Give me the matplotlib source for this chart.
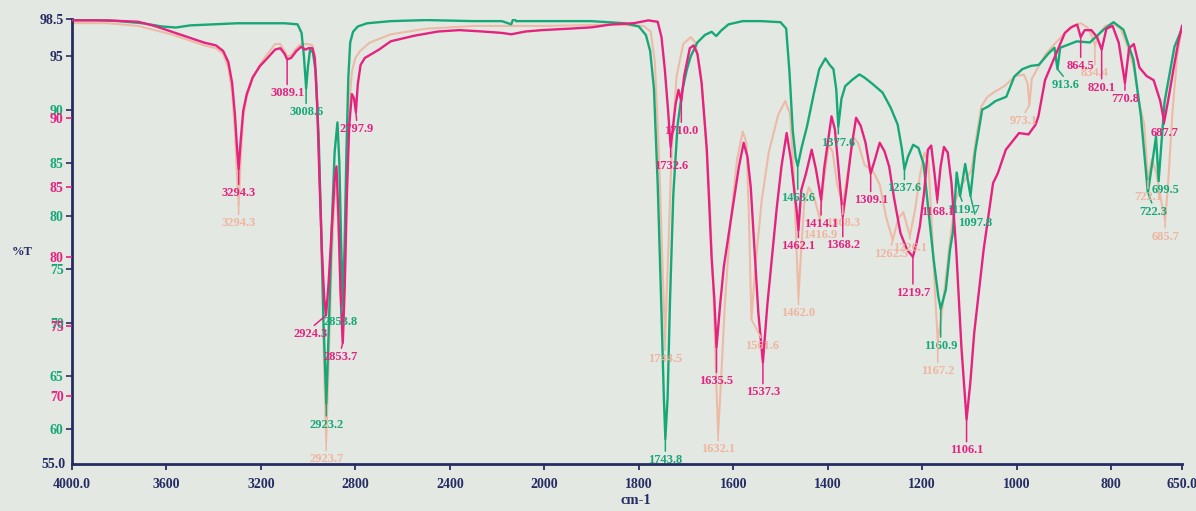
import numpy as np
import matplotlib
matplotlib.use("Agg")
import matplotlib.pyplot as plt

# ---------------------------------------------------------------------------
# FTIR spectra (%T vs wavenumber, cm-1)
# ---------------------------------------------------------------------------
green_wn = [4000, 3900, 3800, 3700, 3620, 3560, 3500, 3400, 3300, 3200, 3100, 3045,
            3028, 3018, 3008.6, 3001, 2992, 2980, 2968, 2955, 2945, 2935, 2923.2, 2912,
            2900, 2888, 2876, 2868, 2861, 2853.8, 2846, 2838, 2830, 2822, 2810, 2790,
            2750, 2650, 2500, 2300, 2180, 2140, 2130, 2120, 2000, 1900, 1830, 1800,
            1785, 1776, 1768, 1760, 1752, 1747, 1743.8, 1739, 1734, 1727, 1718, 1708,
            1698, 1690, 1676, 1660, 1646, 1636, 1626, 1610, 1580, 1540, 1500, 1488,
            1481, 1474, 1468, 1463.6, 1455, 1444, 1429, 1418, 1405, 1396, 1388, 1382,
            1377.6, 1371, 1363, 1348, 1333, 1322, 1305, 1284, 1267, 1252, 1243, 1237.6,
            1230, 1219, 1208, 1197, 1187, 1176, 1166, 1160.9, 1150, 1141, 1135, 1127,
            1119.7, 1109, 1097.8, 1088, 1073, 1060, 1045, 1022, 1005, 988, 970, 953,
            932, 920, 913.6, 908, 902, 873, 845, 816, 795, 774, 753, 737,
            722.3, 711, 705, 699.5, 687, 666, 650]
green_t = [98.4, 98.4, 98.3, 98.1, 97.8, 97.7, 97.9, 98.0, 98.1, 98.1, 98.1, 98.0,
           97.2, 95.0, 92.0, 94.0, 95.6, 95.4, 93.5, 87.0, 79.0, 70.0, 62.4, 70.0,
           79.0, 86.0, 88.8, 85.0, 78.0, 72.0, 77.0, 86.0, 93.0, 96.3, 97.3, 97.8,
           98.1, 98.3, 98.4, 98.3, 98.3, 98.0, 98.6, 98.3, 98.3, 98.3, 98.1, 97.8,
           97.0, 95.5, 92.0, 83.0, 71.0, 63.0, 59.1, 63.0, 72.0, 82.0, 88.5, 91.8,
           93.8, 95.0, 96.3, 97.0, 97.3, 96.9, 97.4, 98.0, 98.3, 98.3, 98.2, 97.6,
           93.5, 88.0, 85.5, 84.7, 86.5, 88.4, 91.6, 93.8, 94.8, 94.2, 93.8, 91.9,
           88.4, 91.0, 92.2, 92.8, 93.3, 93.0, 92.4, 91.6, 90.2, 88.6, 86.3, 84.4,
           85.6, 86.7, 86.4, 84.9, 80.6, 76.0, 72.5, 71.3, 73.1, 76.9, 78.5, 84.1,
           81.9, 84.9, 81.9, 86.0, 90.0, 90.3, 90.8, 91.2, 93.1, 93.8, 94.1, 94.2,
           95.3, 95.8, 93.8, 95.8, 95.9, 96.4, 96.3, 97.5, 98.2, 97.5, 94.7, 89.4,
           82.2, 85.6, 87.5, 83.3, 90.7, 95.9, 97.6]

magenta_wn = [4000, 3850, 3720, 3650, 3580, 3510, 3440, 3390, 3360, 3338, 3322, 3310,
              3302, 3294.3, 3286, 3275, 3260, 3235, 3205, 3172, 3140, 3118, 3100, 3089.1,
              3072, 3050, 3030, 3012, 2998, 2982, 2972, 2962, 2952, 2942, 2932, 2924.3,
              2914, 2900, 2888, 2880, 2872, 2863, 2853.7, 2845, 2836, 2826, 2815, 2806,
              2797.9, 2790, 2778, 2760, 2740, 2700, 2650, 2550, 2450, 2360, 2260, 2180,
              2140, 2080, 2010, 1950, 1900, 1860, 1810, 1780, 1760, 1752, 1745, 1738,
              1732.6, 1722, 1716, 1710.0, 1704, 1692, 1684, 1676, 1667, 1656, 1646, 1640,
              1635.5, 1628, 1620, 1608, 1598, 1588, 1578, 1570, 1563, 1555, 1547, 1537.3,
              1528, 1520, 1508, 1498, 1487, 1478, 1470, 1466, 1462.1, 1456, 1446, 1434,
              1425, 1414.1, 1407, 1399, 1392, 1385, 1377, 1368.2, 1360, 1350, 1340, 1330,
              1320, 1309.1, 1300, 1290, 1280, 1270, 1260, 1246, 1232, 1219.7, 1212, 1205,
              1196, 1188, 1181, 1174, 1168.1, 1161, 1154, 1146, 1138, 1128, 1117, 1106.1,
              1098, 1090, 1070, 1050, 1040, 1023, 995, 975, 960, 954, 940, 919,
              898, 885, 872, 864.5, 856, 842, 830, 820.1, 810, 797, 784, 770.8,
              762, 752, 740, 725, 710, 696, 687.7, 678, 668, 658, 650]
magenta_t = [97.0, 97.0, 96.9, 96.6, 96.2, 95.8, 95.4, 95.2, 94.8, 94.0, 92.5, 90.2,
             88.0, 86.3, 88.3, 90.5, 91.7, 92.9, 93.7, 94.3, 94.9, 95.0, 94.6, 94.2,
             94.3, 94.8, 95.1, 94.9, 95.0, 95.0, 94.3, 91.0, 85.5, 80.5, 77.0, 75.8,
             78.0, 82.0, 85.5, 86.5, 83.0, 77.5, 73.8, 78.0, 84.5, 89.5, 91.7, 91.4,
             90.4, 92.4, 93.8, 94.3, 94.5, 94.9, 95.5, 95.9, 96.2, 96.3, 96.2, 96.1,
             96.0, 96.2, 96.3, 96.4, 96.5, 96.7, 96.8, 97.0, 96.9, 95.8, 93.5, 90.5,
             87.9, 91.0, 92.0, 91.2, 93.0, 95.0, 95.2, 94.6, 92.5, 87.7, 80.0, 76.9,
             73.5, 76.5, 79.3, 82.0, 84.3, 86.5, 88.2, 87.2, 85.0, 80.5, 76.0, 72.4,
             76.5, 79.3, 83.5, 86.5, 88.9, 87.0, 84.5, 83.4, 81.9, 84.8, 86.0, 87.7,
             86.3, 84.1, 86.5, 88.4, 90.1, 89.2, 86.3, 82.9, 85.0, 87.8, 90.0, 89.4,
             88.2, 86.0, 87.0, 88.2, 87.6, 86.5, 84.3, 81.7, 80.5, 80.0, 81.0, 82.2,
             84.6, 87.7, 88.0, 86.0, 84.1, 86.5, 87.9, 87.5, 85.3, 80.5, 73.5, 68.3,
             71.0, 74.5, 80.5, 85.3, 86.0, 87.7, 88.9, 88.8, 89.5, 90.1, 92.7, 94.4,
             96.1, 96.5, 96.7, 95.8, 96.3, 96.3, 95.8, 94.9, 96.4, 96.6, 95.4, 92.5,
             95.0, 95.3, 93.6, 93.0, 92.7, 91.2, 89.7, 91.5, 93.5, 95.4, 96.6]

peach_wn = [4000, 3850, 3720, 3650, 3580, 3510, 3440, 3390, 3360, 3338, 3322, 3310,
            3302, 3294.3, 3286, 3275, 3260, 3235, 3205, 3172, 3140, 3118, 3100, 3089,
            3072, 3050, 3030, 3000, 2982, 2972, 2962, 2950, 2940, 2931, 2923.7, 2914,
            2900, 2888, 2880, 2870, 2860, 2852, 2845, 2836, 2826, 2815, 2800, 2780,
            2740, 2650, 2500, 2300, 2100, 2000, 1850, 1790, 1775, 1766, 1757, 1750,
            1744.5, 1738, 1730, 1720, 1706, 1690, 1680, 1670, 1660, 1650, 1642, 1636,
            1632.1, 1626, 1618, 1606, 1592, 1580, 1572, 1567, 1561.6, 1554, 1540, 1525,
            1505, 1490, 1480, 1472, 1466, 1462.0, 1457, 1450, 1440, 1428, 1416.9, 1408,
            1398, 1390, 1380, 1368.3, 1358, 1346, 1336, 1322, 1305, 1290, 1276, 1262.5,
            1250, 1240, 1226.1, 1215, 1205, 1195, 1187, 1180, 1173, 1167.2, 1160, 1150,
            1140, 1130, 1120, 1108, 1096, 1086, 1075, 1062, 1045, 1025, 1003, 985,
            977, 973.1, 968, 955, 940, 920, 900, 880, 865, 850, 840, 834.4,
            826, 812, 796, 780, 766, 752, 740, 730, 722.1, 714, 704, 694,
            685.7, 679, 670, 660, 650]
peach_t = [96.8, 96.8, 96.6, 96.3, 96.0, 95.6, 95.2, 95.0, 94.6, 93.6, 91.8, 89.0,
           86.0, 83.7, 87.0, 90.0, 91.5, 92.8, 93.8, 94.6, 95.3, 95.3, 94.8, 94.4,
           94.5, 95.0, 95.3, 95.3, 95.2, 94.5, 91.5, 85.0, 78.0, 71.0, 66.8, 72.0,
           80.0, 84.5, 85.2, 81.0, 76.0, 74.0, 78.0, 85.5, 91.0, 93.3, 94.3, 94.8,
           95.4, 96.0, 96.4, 96.6, 96.6, 96.6, 96.7, 96.6, 96.2, 94.0, 87.0, 79.5,
           74.0, 80.0, 88.0, 93.0, 95.3, 95.8, 95.4, 93.5, 89.5, 84.0, 77.5, 71.0,
           67.3, 71.0, 76.5, 82.5, 87.0, 89.0, 88.2, 83.0, 75.5, 79.0, 84.0, 87.5,
           90.2, 91.2, 90.3, 86.0, 80.5, 77.1, 80.0, 83.8, 85.0, 84.2, 82.7, 85.5,
           88.0, 87.6, 85.2, 83.7, 86.0, 88.6, 88.2, 86.6, 86.2, 85.2, 82.8, 81.2,
           82.8, 83.2, 81.5, 83.4, 85.8, 87.5, 86.8, 82.5, 77.5, 74.0, 75.5, 78.5,
           81.5, 84.0, 85.0, 85.6, 86.2, 88.5, 90.8, 91.5, 91.9, 92.3, 93.0, 93.1,
           92.5, 90.9, 92.8, 93.6, 94.5, 95.3, 96.0, 96.6, 96.8, 96.5, 95.8, 95.2,
           96.0, 96.6, 96.8, 96.4, 95.2, 93.6, 91.0, 89.5, 85.5, 87.0, 86.0, 84.0,
           82.6, 85.5, 90.5, 94.5, 96.5]

# Peak picks: (wavenumber, label text)
green_peaks = [3008.6, 2923.2, 2853.8, 1743.8, 1463.6, 1377.6, 1237.6, 1160.9,
               1119.7, 1097.8, 913.6, 722.3, 699.5]
magenta_peaks = [3294.3, 3089.1, 2924.3, 2853.7, 2797.9, 1732.6, 1710.0, 1635.5,
                 1537.3, 1462.1, 1414.1, 1368.2, 1309.1, 1219.7, 1168.1, 1106.1,
                 864.5, 820.1, 770.8, 687.7]
peach_peaks = [3294.3, 2923.7, 1744.5, 1632.1, 1561.6, 1462.0, 1416.9, 1368.3,
               1262.5, 1226.1, 1167.2, 973.1, 834.4, 722.1, 685.7]

# Label offsets in pixels (dx, dy below the trough)
green_offsets = [(0, 18), (0, 15), (-2, 15), (0, 15), (0, 26), (0, 10), (0, 13), (0, 31),
                 (3, 8), (5, 21), (8, 10), (5, 13), (7, 3)]
magenta_offsets = [(0, 18), (0, 28), (-15, 13), (-2, 8), (1, 11), (0, 13), (0, 24),
                   (0, 28), (0, 24), (0, 10), (0, 18), (0, 23), (0, 21), (0, 30),
                   (0, 6), (0, 25), (0, 23), (0, 32), (0, 10), (0, 5)]
peach_offsets = [(0, 12), (0, 13), (0, 13), (0, 10), (11, 21), (0, 10), (0, 10), (0, 12),
                 (-2, 8), (0, 6), (0, 25), (-6, 10), (0, 22), (0, 11), (0, 10)]

xticks = [4000, 3600, 3200, 2800, 2400, 2000, 1800, 1600, 1400, 1200, 1000, 800, 650]
xtick_labels = ["4000.0", "3600", "3200", "2800", "2400", "2000", "1800", "1600",
                "1400", "1200", "1000", "800", "650.0"]
green_yticks = [60, 65, 70, 75, 80, 85, 90, 95, 98.5]
green_ytick_labels = ["60", "65", "70", "75", "80", "85", "90", "95", "98.5"]
magenta_yticks = [70, 75, 80, 85, 90]

# ---------------------------------------------------------------------------
BG = "#e3e8e3"
GREEN = "#17a878"
MAGENTA = "#e5237f"
PEACH = "#efb59f"
NAVY = "#262c62"
FONT = "Liberation Serif"


def fwd(x):
    x = np.asarray(x, dtype=float)
    return np.where(x >= 2000, x, 2.0 * x - 2000.0)


def inv(u):
    u = np.asarray(u, dtype=float)
    return np.where(u >= 2000, u, (u + 2000.0) / 2.0)


fig = plt.figure(figsize=(11.96, 5.11), dpi=100, facecolor=BG)
ax = fig.add_axes([72 / 1196, 1 - 464 / 511, (1182 - 72) / 1196, 445 / 511])
ax.set_facecolor(BG)
ax.set_xscale("function", functions=(fwd, inv))
ax.set_xlim(4000, 650)
ax.set_ylim(56.75, 98.5)

axm = ax.twinx()
axm.set_ylim(65.1, 97.1)
axm.patch.set_visible(False)

ax.plot(peach_wn, peach_t, color=PEACH, lw=1.5, alpha=0.9, zorder=1,
        transform=axm.transData, solid_joinstyle="round")
ax.plot(green_wn, green_t, color=GREEN, lw=1.7, zorder=2, solid_joinstyle="round")
ax.plot(magenta_wn, magenta_t, color=MAGENTA, lw=1.7, zorder=3,
        transform=axm.transData, solid_joinstyle="round")


def label_peaks(target, wn, t, peaks, offsets, color, z):
    for p, (dx, dy) in zip(peaks, offsets):
        val = t[wn.index(p)]
        target.annotate(f"{p:.1f}", xy=(p, val), xytext=(dx, -dy),
                        textcoords="offset pixels", ha="center", va="top",
                        color=color, fontsize=9, fontweight="bold", family=FONT,
                        zorder=z,
                        arrowprops=dict(arrowstyle="-", color=color, lw=1.1,
                                        shrinkA=0, shrinkB=0, relpos=(0.5, 1.0)))


label_peaks(axm, peach_wn, peach_t, peach_peaks, peach_offsets, PEACH, 4)
label_peaks(ax, green_wn, green_t, green_peaks, green_offsets, GREEN, 5)
label_peaks(axm, magenta_wn, magenta_t, magenta_peaks, magenta_offsets, MAGENTA, 6)

# Axes styling
for a in (ax, axm):
    for side in ("top", "right"):
        a.spines[side].set_visible(False)
axm.spines["left"].set_visible(False)
axm.spines["bottom"].set_visible(False)
ax.spines["left"].set_color(NAVY)
ax.spines["bottom"].set_color(NAVY)
ax.spines["left"].set_linewidth(2.0)
ax.spines["bottom"].set_linewidth(2.0)

ax.set_xticks(xticks)
ax.set_xticklabels(xtick_labels)
ax.tick_params(axis="x", direction="out", length=4, width=1.3, color=NAVY,
               labelcolor=NAVY, pad=6)
ax.set_yticks(green_yticks)
ax.set_yticklabels(green_ytick_labels)
ax.tick_params(axis="y", direction="out", length=4, width=1.2, color=NAVY, pad=2)
for lbl in ax.get_yticklabels():
    lbl.set_color(GREEN if lbl.get_text() not in ("95", "98.5") else NAVY)

axm.yaxis.tick_left()
axm.set_yticks(magenta_yticks)
axm.set_yticklabels([str(v) for v in magenta_yticks])
axm.tick_params(axis="y", direction="out", length=4, width=1.2, color=MAGENTA,
                labelcolor=MAGENTA, pad=2)

for lbl in ax.get_xticklabels() + ax.get_yticklabels() + axm.get_yticklabels():
    lbl.set_fontfamily(FONT)
    lbl.set_fontweight("bold")
    lbl.set_fontsize(10)

fig.text(66 / 1196, 1 - 464 / 511, "55.0", ha="right", va="center", color=NAVY,
         fontsize=10, fontweight="bold", family=FONT)
fig.text(22 / 1196, 1 - 252 / 511, "%T", ha="center", va="center", color=NAVY,
         fontsize=9, fontweight="bold", family=FONT)
fig.text(636 / 1196, 1 - 500 / 511, "cm-1", ha="center", va="center", color=NAVY,
         fontsize=10.5, fontweight="bold", family=FONT)

fig.savefig("out.png", dpi=100, facecolor=BG)
